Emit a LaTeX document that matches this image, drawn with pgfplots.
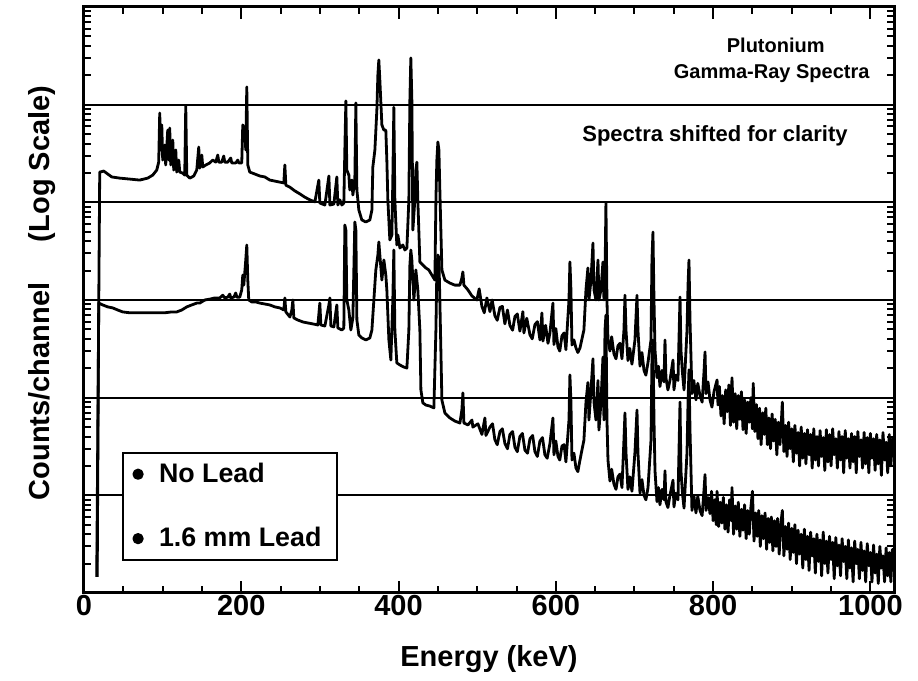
\documentclass[border=0pt]{standalone}
\usepackage{pgfplots}
\pgfplotsset{compat=1.18}
\usepackage{fontspec}
\setmainfont{Liberation Sans}
\begin{document}
\begin{tikzpicture}
\begin{axis}[
  scale only axis, width=405pt, height=293pt,
  xmin=0, xmax=1030, ymode=log, ymin=10, ymax=1e7,
  axis line style={line width=1.5pt},
  xtick={0,200,...,1000}, minor x tick num=3,
  tick align=inside, major tick length=6pt, minor tick length=3.5pt,
  every tick/.style={black, line width=1pt},
  yticklabel=\empty,
  ymajorgrids, major grid style={black, line width=1pt},
  /pgf/number format/assume math mode=true,
  /pgf/number format/1000 sep={},
  xticklabel style={font=\fontsize{14.5}{16}\selectfont\bfseries, inner sep=1pt},
  xlabel={Energy (keV)},
  xlabel style={at={(axis description cs:0.5,0)}, anchor=base, yshift=-37pt, font=\fontsize{14.5}{16}\selectfont\bfseries},
  ylabel={Counts/channel\hspace{1.4em}(Log Scale)},
  ylabel style={at={(axis description cs:0,0.512)}, anchor=base, yshift=17pt, font=\fontsize{14.5}{16}\selectfont\bfseries},
  legend style={at={(0.047,0.2406)}, anchor=north west, draw=black, line width=1pt, fill=white,
    font=\fontsize{13.4}{15}\selectfont\bfseries, row sep=17pt, inner xsep=1.5pt, inner ysep=3pt},
  legend cell align=left,
  legend image code/.code={\path[draw=none,fill=none] (-6pt,0pt) rectangle (8.5pt,0pt); \fill[black] (0pt,0pt) circle (2.1pt);},
]
% No Lead (shifted up)
\addplot[black, no marks, line width=1.4pt, line join=round] coordinates {
(16.2,14.6) (20.0,2.04e5) (25.1,2.09e5) (30.2,1.95e5) (35.2,1.82e5) (45.4,1.77e5) (58.1,1.73e5) (70.8,1.69e5)
(81.0,1.77e5) (87.4,1.90e5) (92.5,2.14e5) (95.0,2.58e5) (96.3,8.21e5) (97.6,3.44e5) (98.9,6.2e5) (100.1,2.71e5)
(102.7,3.86e5) (103.9,2.41e5) (106.5,5.5e5) (107.8,2.71e5) (109.0,5.77e5) (110.3,2.41e5) (112.9,4.34e5) (114.1,2.14e5)
(116.7,3.44e5) (117.9,2.04e5) (120.5,2.71e5) (121.8,2.04e5) (125.6,1.99e5) (128.1,1.90e5) (129.4,9.68e5) (130.7,1.90e5)
(134.5,1.77e5) (139.6,1.86e5) (143.4,2.14e5) (145.9,3.68e5) (147.2,2.24e5) (149.8,3.05e5) (151.0,2.30e5) (154.8,2.41e5)
(159.9,2.53e5) (163.7,2.71e5) (167.6,2.58e5) (170.1,3.05e5) (171.4,2.58e5) (175.2,2.58e5) (177.7,2.98e5) (179.0,2.58e5)
(182.8,2.58e5) (186.6,2.84e5) (187.9,2.53e5) (193.0,2.53e5) (195.6,2.71e5) (196.8,2.53e5) (200.6,2.53e5) (201.9,6.2e5)
(204.5,5.5e5) (205.7,3.44e5) (207.0,1.52e6) (208.3,2.41e5) (210.8,2.04e5) (217.2,1.95e5) (223.6,1.86e5) (229.9,1.82e5)
(236.3,1.69e5) (242.7,1.65e5) (249.0,1.61e5) (254.1,1.58e5) (255.4,2.41e5) (256.7,1.50e5) (261.8,1.43e5) (268.1,1.31e5)
(274.5,1.22e5) (280.8,1.13e5) (287.2,1.06e5) (293.6,1.01e5) (298.6,1.69e5) (299.9,9.84e4) (306.3,9.39e4) (311.4,1.86e5)
(312.7,9.39e4) (317.7,9.6e4) (321.5,1.82e5) (322.8,9.39e4) (325.3,1.06e5) (327.9,9.39e4) (330.4,9.84e4) (331.7,3.44e5)
(333.0,1.09e6) (334.2,2.14e5) (336.8,1.90e5) (338.0,1.34e5) (340.6,1.69e5) (341.9,1.19e5) (344.4,1.69e5) (345.7,1.04e6)
(347.0,1.34e5) (349.5,8.35e4) (353.3,6.6e4) (358.4,6.29e4) (363.5,6.6e4) (366.1,8.35e4) (367.3,2.30e5) (369.9,3.44e5)
(372.4,8.81e5) (373.7,2.01e6) (374.9,2.87e6) (376.2,1.79e6) (378.8,6.2e5) (381.3,5.5e5) (383.8,5.5e5) (385.1,2.71e5)
(386.4,1.06e5) (388.9,4.12e4) (391.5,4.63e4) (392.7,1.69e5) (394.0,9.4e5) (395.3,1.06e5) (397.8,3.66e4) (399.1,4.63e4)
(401.7,3.41e4) (405.5,3.66e4) (408.0,3.25e4) (410.6,3.41e4) (413.1,1.06e5) (414.4,1.12e6) (415.6,3.01e6) (416.9,1.12e6)
(418.2,5.21e4) (420.7,1.06e5) (422.0,2.14e5) (423.3,2.58e5) (424.5,1.06e5) (427.1,2.45e4) (430.9,2.28e4) (434.7,2.13e4)
(438.5,2.03e4) (442.4,1.80e4) (446.2,1.60e4) (447.5,1.06e5) (448.7,2.71e5) (450.0,4.15e5) (451.3,3.44e5) (452.5,1.34e5)
(455.1,2.03e4) (458.9,1.60e4) (465.3,1.49e4) (471.6,1.42e4) (478.0,1.42e4) (480.5,1.68e4) (481.8,1.94e4) (483.1,1.42e4)
(488.2,1.27e4) (493.3,1.10e4) (499.6,1.00e4) (502.5,1.3e4) (506.0,8.6e3) (509.0,7.4e3) (512.3,1.05e4) (516.2,7.6e3)
(519.0,1.0e4) (522.5,6.9e3) (525.5,6.2e3) (528.9,8.4e3) (532.0,8.6e3) (535.2,5.7e3) (538.5,7.9e3) (541.6,5.5e3)
(545.0,4.9e3) (548.0,6.8e3) (551.0,7.2e3) (554.3,4.8e3) (558.1,7.6e3) (559.4,4.6e3) (563.0,6.5e3) (567.1,4.4e3)
(570.0,4.0e3) (573.4,5.6e3) (576.5,6.0e3) (579.8,3.9e3) (582.3,7.37e3) (583.6,3.8e3) (587.0,5.5e3) (590.0,3.6e3)
(592.5,4.6e3) (596.3,9.3e3) (597.6,3.5e3) (600.0,5.1e3) (602.7,3.3e3) (605.0,3.0e3) (607.8,4.3e3) (610.5,4.6e3)
(612.8,3.1e3) (616.7,1.0e4) (617.9,2.45e4) (619.2,1.27e4) (620.5,3.46e3) (623.0,3.9e3) (625.6,3.23e3) (628.0,2.9e3)
(630.7,3.23e3) (635.7,4.93e3) (638.3,1.27e4) (640.8,2.13e4) (642.1,1.0e4) (644.7,1.6e4) (647.2,3.83e4) (648.5,1.27e4)
(651.0,1.0e4) (653.6,2.57e4) (654.8,1.0e4) (657.4,1.27e4) (659.9,2.45e4) (661.2,1.0e4) (662.5,1.6e4) (663.7,9.84e4)
(665.0,1.0e4) (666.3,3.9e3) (668.8,3.0e3) (671.0,4.2e3) (673.9,2.8e3) (676.5,2.5e3) (679.0,3.4e3) (681.5,3.6e3)
(684.1,2.5e3) (686.6,4.93e3) (687.9,1.12e4) (689.2,4.93e3) (691.7,2.4e3) (694.0,3.2e3) (696.8,2.2e3) (700.6,3.9e3)
(703.2,1.12e4) (704.4,4.93e3) (707.0,2.1e3) (709.5,2.9e3) (712.1,1.9e3) (714.5,1.7e3) (717.2,2.3e3) (721.0,3.9e3)
(722.2,2.57e4) (723.5,4.97e4) (724.8,1.0e4) (726.1,3.08e3) (728.6,1.6e3) (730.5,2.1e3) (732.4,1.3e3) (735.0,1.9e3)
(737.5,1.45e3) (738.8,3.9e3) (740.0,1.6e3) (742.5,1.2e3) (745.1,1.5e3) (749.0,2.43e3) (750.2,1.2e3) (752.5,1.7e3)
(755.3,1.5e3) (757.9,1.07e4) (759.1,3.08e3) (761.0,1.8e3) (763.0,1.2e3) (766.8,4.93e3) (768.1,1.42e4) (769.3,2.57e4)
(770.6,6.24e3) (773.1,1.1e3) (775.5,1.5e3) (778.2,9.5e2) (780.5,1.4e3) (783.3,1.05e3) (786.0,9.0e2) (788.4,1.84e3)
(789.7,2.94e3) (791.0,1.1e3) (793.5,1.45e3) (796.0,9.5e2) (798.5,8.0e2) (801.1,1.15e3) (805.0,1.52e3) (806.2,8.4e2)
(808,1300) (810,650) (812,1050) (814,540) (816,1200) (818,720) (820,1350) (822,520) (824,1600) (826,560) (828,1100)
(830,480) (832,1050) (834,600) (836,1150) (838,470) (840,950) (842,430) (844,900) (846,560) (848,1000) (850,480)
(851,1400) (853,450) (855,850) (857,380) (859,780) (861,330) (863,700) (865,420) (867,780) (869,330) (871,620)
(873,300) (875,680) (877,360) (879,600) (881,260) (883,560) (885,330) (887,620) (888,900) (890,280) (892,520)
(894,250) (896,560) (898,300) (900,480) (902,220) (904,520) (906,270) (908,440) (910,200) (912,500) (914,240)
(916,430) (918,210) (920,470) (922,260) (924,420) (926,190) (928,480) (930,230) (932,400) (934,200) (936,460)
(938,250) (940,390) (942,180) (944,470) (946,220) (948,420) (950,200) (952,480) (954,260) (956,380) (958,190)
(960,450) (962,230) (964,400) (966,170) (968,460) (970,240) (972,380) (974,190) (976,430) (978,220) (980,400)
(982,170) (984,450) (986,250) (988,370) (990,190) (992,440) (994,210) (996,390) (998,170) (1000,430) (1002,240)
(1004,380) (1006,180) (1008,420) (1010,210) (1012,370) (1014,160) (1016,440) (1018,230) (1020,350) (1022,170)
(1024,420) (1026,200) (1028,380) (1030,300)
};
\addlegendentry{No Lead}
% 1.6 mm Lead
\addplot[black, no marks, line width=1.4pt, line join=round] coordinates {
(16.8,14.6) (18.7,9.3e3) (23.8,8.9e3) (30.2,8.5e3) (36.5,8.3e3) (42.9,7.9e3) (49.2,7.55e3) (58.1,7.4e3) (70.8,7.4e3)
(83.6,7.4e3) (92.5,7.4e3) (102.7,7.4e3) (111.6,7.55e3) (117.9,7.55e3) (124.3,7.9e3) (130.7,8.5e3) (137.0,8.9e3)
(143.4,9.3e3) (147.2,9.3e3) (153.6,1.0e4) (159.9,1.02e4) (166.3,1.05e4) (172.6,1.05e4) (176.5,1.12e4) (179.0,1.05e4)
(182.8,1.07e4) (185.4,1.15e4) (186.6,1.05e4) (190.5,1.07e4) (193.0,1.18e4) (194.3,1.07e4) (198.1,1.07e4) (200.6,1.27e4)
(201.9,1.80e4) (203.2,1.42e4) (205.7,2.57e4) (207.0,3.66e4) (208.3,1.60e4) (209.5,1.0e4) (213.4,9.55e3) (218.5,9.55e3)
(223.6,9.3e3) (229.9,9.1e3) (236.3,8.9e3) (242.7,8.5e3) (249.0,8.3e3) (254.1,7.9e3) (255.4,1.05e4) (256.7,7.55e3)
(261.8,6.7e3) (264.3,7.9e3) (265.6,1.0e4) (266.8,6.55e3) (271.9,6.24e3) (278.3,5.96e3) (284.7,5.82e3) (291.0,5.69e3)
(297.4,5.55e3) (299.9,9.3e3) (301.2,5.55e3) (306.3,5.42e3) (311.4,8.9e3) (312.7,1.05e4) (313.9,5.42e3) (317.7,5.3e3)
(321.5,8.9e3) (322.8,5.17e3) (327.9,4.93e3) (330.4,5.17e3) (331.7,5.86e4) (333.0,5.21e4) (334.2,1.0e4) (336.8,7.9e3)
(339.3,4.93e3) (341.9,6.55e3) (344.4,6.29e4) (345.7,5.21e4) (347.0,6.24e3) (349.5,4.38e3) (353.3,4.09e3) (358.4,3.9e3)
(363.5,4.09e3) (366.1,4.93e3) (368.6,1.0e4) (371.1,2.03e4) (373.7,2.89e4) (374.9,3.93e4) (376.2,2.89e4) (378.8,1.60e4)
(381.3,2.57e4) (383.8,1.80e4) (385.1,1.27e4) (387.7,3.9e3) (390.2,2.43e3) (392.7,1.0e4) (394.0,3.25e4) (395.3,4.93e3)
(397.8,2.27e3) (401.7,2.16e3) (406.7,2.06e3) (410.6,2.01e3) (413.1,4.93e3) (414.4,2.28e4) (415.6,3.25e4) (416.9,2.57e4)
(419.5,1.0e4) (422.0,2.03e4) (424.5,1.27e4) (427.1,4.93e3) (428.4,1.2e3) (430.9,8.85e2) (434.7,8.4e2) (439.8,8.2e2)
(444.9,7.85e2) (447.5,4.93e3) (448.7,2.03e4) (450.0,2.89e4) (451.3,2.69e4) (452.5,1.0e4) (455.1,9.45e2) (458.9,6.98e2)
(465.3,6.2e2) (471.6,5.76e2) (478.0,5.5e2) (480.5,7.47e2) (481.8,1.12e3) (483.1,5.5e2) (488.2,5.25e2) (493.3,5.9e2)
(494.5,5.0e2) (500.9,5.4e2) (506.0,4.2e2) (509.8,6.2e2) (511.1,4.1e2) (516.2,5.0e2) (519.5,5.4e2) (522.5,3.7e2)
(525.5,3.3e2) (528.9,4.5e2) (532.0,4.8e2) (535.2,3.4e2) (538.5,3.0e2) (541.6,4.2e2) (545.0,4.5e2) (548.0,3.1e2)
(551.0,2.8e2) (554.3,4.0e2) (557.5,4.3e2) (560.7,2.9e2) (564.0,2.7e2) (567.1,3.8e2) (570.5,4.1e2) (573.4,2.8e2)
(576.5,2.5e2) (579.8,3.6e2) (583.0,3.9e2) (586.1,2.6e2) (589.0,2.4e2) (592.5,3.4e2) (596.3,6.2e2) (597.6,2.6e2)
(600.0,3.6e2) (602.7,2.5e2) (605.0,2.3e2) (607.8,3.2e2) (610.5,3.3e2) (612.8,2.2e2) (616.7,5.9e2) (617.9,1.71e3)
(619.2,9.0e2) (620.5,2.3e2) (623.0,2.7e2) (625.6,1.9e2) (628.0,1.75e2) (630.7,2.3e2) (635.7,3.68e2) (638.3,9.0e2)
(640.8,1.43e3) (642.1,5.9e2) (644.7,1.2e3) (647.2,2.5e3) (648.5,9.0e2) (651.0,5.9e2) (653.6,1.5e3) (654.8,4.66e2)
(657.4,9.0e2) (659.9,2.6e3) (661.2,5.9e2) (662.5,4.93e3) (663.7,7.0e3) (665.0,5.9e2) (666.3,2.3e2) (668.8,1.4e2)
(671.0,1.85e2) (673.9,1.3e2) (676.5,1.15e2) (679.0,1.55e2) (681.5,1.65e2) (684.1,1.2e2) (686.6,3.68e2) (687.9,6.98e2)
(689.2,2.76e2) (691.7,1.15e2) (694.0,1.55e2) (696.8,1.1e2) (700.6,2.76e2) (703.2,7.47e2) (704.4,2.76e2) (707.0,1.05e2)
(709.5,1.45e2) (712.1,1.0e2) (714.5,9.0e1) (717.2,1.2e2) (721.0,3.68e2) (722.2,2.43e3) (723.5,3.9e3) (724.8,5.9e2)
(726.1,1.78e2) (728.6,8.6e1) (730.5,1.2e2) (732.4,8.0e1) (735.0,1.15e2) (737.5,9.0e1) (738.8,1.78e2) (740.0,8.6e1)
(742.5,7.5e1) (745.1,1.0e2) (749.0,1.43e2) (750.2,7.6e1) (752.5,1.05e2) (755.3,9.0e1) (757.9,9.0e2) (759.1,1.78e2)
(761.0,1.05e2) (763.0,7.4e1) (766.8,2.76e2) (768.1,9.0e2) (769.3,1.93e3) (770.6,4.66e2) (773.1,7.0e1) (775.5,1.0e2)
(778.2,6.6e1) (780.5,9.8e1) (783.3,7.0e1) (786.0,6.2e1) (788.4,1.13e2) (789.7,1.63e2) (791.0,7.0e1) (793.5,9.5e1)
(796.0,6.5e1) (798,110) (800,55) (802,90) (804,50) (805,110) (807,48) (809,85) (811,52) (813,95) (815,45) (817,80)
(819,42) (821,90) (823,55) (824,120) (826,40) (828,78) (830,45) (832,85) (834,38) (836,72) (838,44) (840,80)
(842,36) (844,70) (846,40) (848,75) (850,110) (852,34) (854,66) (856,38) (858,70) (860,30) (862,62) (864,36)
(866,66) (868,28) (870,58) (872,33) (874,60) (876,27) (878,55) (880,30) (882,58) (884,25) (886,50) (888,70)
(890,24) (892,48) (894,28) (896,52) (898,22) (900,46) (902,26) (904,50) (906,20) (908,44) (910,25) (912,40)
(914,18) (916,45) (918,22) (920,38) (922,17) (924,42) (926,24) (928,36) (930,16) (932,40) (934,21) (936,35)
(938,15) (940,42) (942,20) (944,34) (946,16) (948,38) (950,22) (952,33) (954,14) (956,37) (958,19) (960,31)
(962,15) (964,36) (966,21) (968,30) (970,14) (972,35) (974,18) (976,29) (978,13) (980,34) (982,20) (984,28)
(986,14) (988,33) (990,17) (992,27) (994,13) (996,32) (998,19) (1000,26) (1002,13) (1004,31) (1006,16) (1008,25)
(1010,12.5) (1012,30) (1014,18) (1016,24) (1018,13) (1020,29) (1022,15) (1024,26) (1026,13) (1028,28) (1030,20)
};
\addlegendentry{1.6 mm Lead\kern4.5pt}
\node[font=\fontsize{10}{12}\selectfont\bfseries] at (rel axis cs:0.854,0.935) {Plutonium};
\node[font=\fontsize{10}{12}\selectfont\bfseries] at (rel axis cs:0.849,0.887) {Gamma-Ray Spectra};
\node[font=\fontsize{11}{13}\selectfont\bfseries] at (rel axis cs:0.779,0.780) {Spectra shifted for clarity};
\end{axis}
\pgfresetboundingbox
\path[use as bounding box] (-42pt,-44pt) rectangle (417pt,296.5pt);
\end{tikzpicture}
\end{document}
